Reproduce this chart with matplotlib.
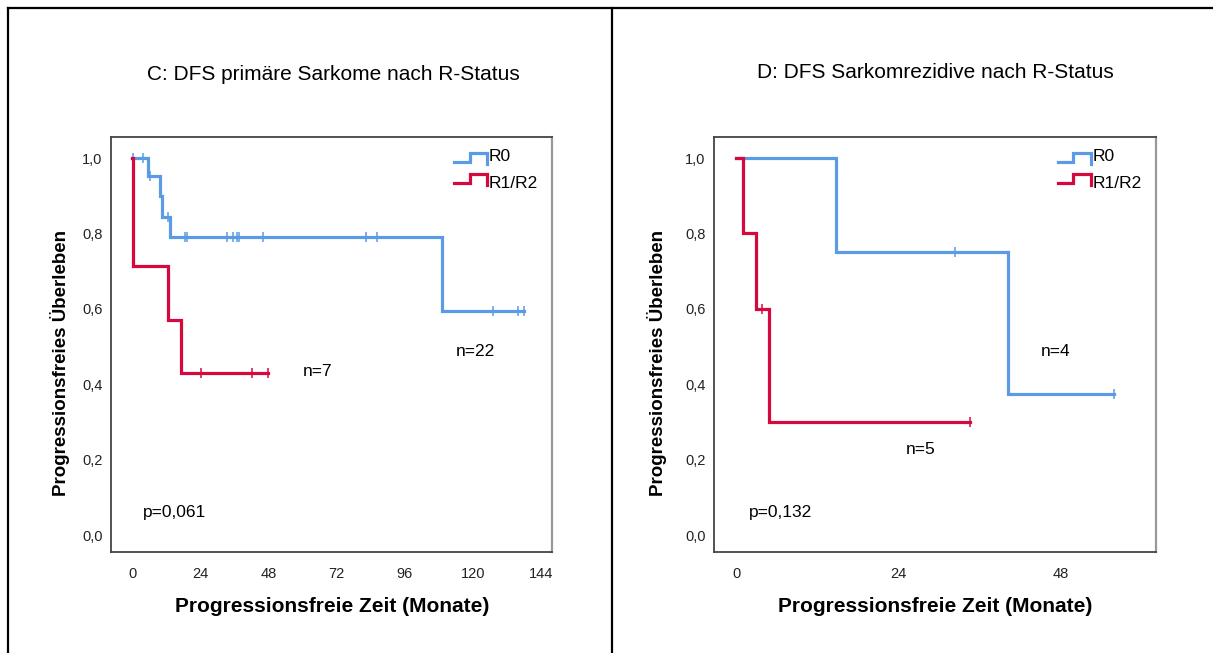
import numpy as np
import matplotlib.pyplot as plt
from matplotlib.ticker import FuncFormatter

plt.rcParams['font.family'] = ['Liberation Sans', 'DejaVu Sans']

# C: primary sarcomas (months, survival)
c_r0_times = [0, 5.5, 9.9, 10.4, 13.4, 109, 138]
c_r0_surv = [1.0, 0.952, 0.900, 0.845, 0.790, 0.595, 0.595]
c_r0_censored = [0.3, 4.0, 6.3, 12.6, 18.7, 19.3, 33.6, 35.5, 37.1, 37.8,
                 46.2, 82.3, 86.2, 127, 136, 138]
c_r12_times = [0, 0.2, 12.6, 17.3, 48]
c_r12_surv = [1.0, 0.714, 0.571, 0.429, 0.429]
c_r12_censored = [24.3, 42.4, 48]

# D: recurrent sarcomas
d_r0_times = [0, 14.8, 40.1, 55.8]
d_r0_surv = [1.0, 0.75, 0.375, 0.375]
d_r0_censored = [32.3, 55.8]
d_r12_times = [0, 1.0, 2.95, 4.9, 34.5]
d_r12_surv = [1.0, 0.8, 0.6, 0.3, 0.3]
d_r12_censored = [3.9, 34.5]

BLUE = '#5b9be6'
RED = '#d6093f'
W, H = 1213, 653


def km_curve(ax, times, surv, censored, color):
    ax.step(times, surv, where='post', color=color, lw=2.3, solid_joinstyle='miter')
    idx = np.searchsorted(times, censored, side='right') - 1
    ax.plot(censored, np.array(surv)[idx], ls='none', marker='|',
            ms=7, mew=1.1, color=color)


def legend_glyph(ax, y, color):
    gx = np.array([0.0, 0.035, 0.035, 0.075, 0.075])
    gy = np.array([0.0, 0.0, 0.022, 0.022, -0.004])
    ax.plot(0.778 + gx, y + gy, transform=ax.transAxes, color=color,
            lw=2.3, solid_joinstyle='miter', clip_on=False)


def setup_axes(rect, xlim, xticks):
    ax = fig.add_axes(rect)
    ax.set_xlim(*xlim)
    ax.set_ylim(-0.045, 1.056)
    ax.set_xticks(xticks)
    ax.set_yticks(np.arange(0, 1.01, 0.2))
    ax.yaxis.set_major_formatter(FuncFormatter(lambda v, p: f'{v:.1f}'.replace('.', ',')))
    ax.tick_params(length=0, labelsize=10.5, colors='#222222')
    ax.tick_params(axis='x', pad=11)
    ax.tick_params(axis='y', pad=6)
    for side in ['left', 'bottom', 'top']:
        ax.spines[side].set_color('#444444')
        ax.spines[side].set_linewidth(1.3)
    ax.spines['right'].set_color('#999999')
    ax.spines['right'].set_linewidth(1.6)
    return ax


def px(x, y):
    return x / W, 1 - y / H


fig = plt.figure(figsize=(W / 100, H / 100), dpi=100)

ax1 = setup_axes([111 / W, 1 - 552 / H, 441 / W, 415 / H], (-7.4, 147.9),
                 [0, 24, 48, 72, 96, 120, 144])
km_curve(ax1, c_r0_times, c_r0_surv, c_r0_censored, BLUE)
km_curve(ax1, c_r12_times, c_r12_surv, c_r12_censored, RED)

ax2 = setup_axes([714 / W, 1 - 552 / H, 442 / W, 415 / H], (-3.25, 62.0),
                 [0, 24, 48])
km_curve(ax2, d_r0_times, d_r0_surv, d_r0_censored, BLUE)
km_curve(ax2, d_r12_times, d_r12_surv, d_r12_censored, RED)

for ax in (ax1, ax2):
    legend_glyph(ax, 0.940, BLUE)
    legend_glyph(ax, 0.889, RED)
    ax.text(0.857, 0.952, 'R0', transform=ax.transAxes, fontsize=12.5, va='center')
    ax.text(0.857, 0.889, 'R1/R2', transform=ax.transAxes, fontsize=12.5, va='center')

# annotations
ax1.text(*px(303, 372), 'n=7', transform=fig.transFigure, fontsize=12.5, va='center')
ax1.text(*px(456, 352), 'n=22', transform=fig.transFigure, fontsize=12.5, va='center')
ax1.text(*px(143, 513), 'p=0,061', transform=fig.transFigure, fontsize=12.5, va='center')
ax2.text(*px(1041, 352), 'n=4', transform=fig.transFigure, fontsize=12.5, va='center')
ax2.text(*px(906, 449), 'n=5', transform=fig.transFigure, fontsize=12.5, va='center')
ax2.text(*px(749, 513), 'p=0,132', transform=fig.transFigure, fontsize=12.5, va='center')

# titles and axis labels
fig.text(*px(333, 74), 'C: DFS primäre Sarkome nach R-Status', fontsize=15,
         ha='center', va='center')
fig.text(*px(935, 73), 'D: DFS Sarkomrezidive nach R-Status', fontsize=15,
         ha='center', va='center')
for cx in (332, 935):
    fig.text(*px(cx, 607), 'Progressionsfreie Zeit (Monate)', fontsize=15,
             fontweight='bold', ha='center', va='center')
for cx in (60, 657):
    fig.text(*px(cx, 363), 'Progressionsfreies Überleben', fontsize=13.5,
             fontweight='bold', ha='center', va='center', rotation=90)

# surrounding table frame
for xs, ys in [((8, W), (8, 8)), ((8, 8), (8, H)), ((612, 612), (8, H))]:
    fig.add_artist(plt.Line2D([x / W for x in xs], [1 - y / H for y in ys],
                              color='black', lw=1.6))

fig.savefig('out.png', dpi=100)
